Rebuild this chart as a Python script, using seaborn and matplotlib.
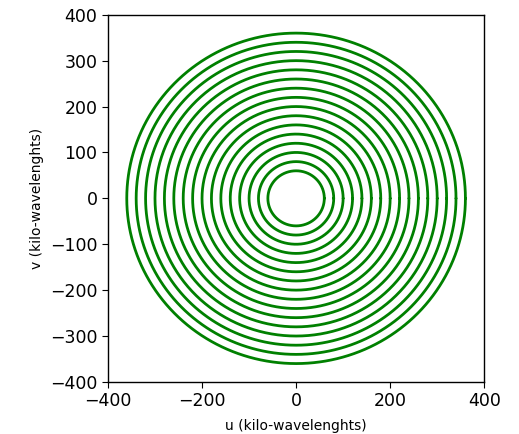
import numpy as np
import pandas as pd
import matplotlib
matplotlib.use("Agg")
import matplotlib.pyplot as plt
import seaborn as sns

# ----------------------------
# Data: uv-track radii (kilo-wavelengths)
# ----------------------------
radii = [60, 80, 100, 120, 140, 160, 180, 200, 220, 240,
         260, 280, 300, 320, 340, 360]
x_ticks = [-400, -200, 0, 200, 400]
y_ticks = [-400, -300, -200, -100, 0, 100, 200, 300, 400]

# hour angle samples for a full track
theta = np.linspace(0, 2 * np.pi, 721)

rows = []
for r in radii:
    rows.append(pd.DataFrame({"u": r * np.cos(theta),
                              "v": r * np.sin(theta),
                              "radius": r}))
df = pd.concat(rows, ignore_index=True)

# ----------------------------
# Plot
# ----------------------------
sns.set_style("ticks")
plt.rcParams["font.family"] = ["DejaVu Sans"]
plt.rcParams["text.color"] = "black"
plt.rcParams["axes.labelcolor"] = "black"
plt.rcParams["xtick.color"] = "black"
plt.rcParams["ytick.color"] = "black"

fig = plt.figure(figsize=(5.19, 4.34), dpi=100)
ax = fig.add_axes([0.208, 0.12, 0.725, 0.846])

sns.lineplot(data=df, x="u", y="v", units="radius", estimator=None,
             sort=False, color="green", linewidth=2, ax=ax)

ax.set_xlim(-400, 400)
ax.set_ylim(-400, 400)
ax.set_xticks(x_ticks)
ax.set_yticks(y_ticks)
ax.tick_params(labelsize=12.5, direction="out", length=4)
ax.set_xlabel("u (kilo-wavelenghts)", fontsize=10, labelpad=6)
ax.set_ylabel("v (kilo-wavelenghts)", fontsize=10)
for s in ax.spines.values():
    s.set_color("black")
    s.set_linewidth(1)

fig.savefig("out.png", dpi=100)
